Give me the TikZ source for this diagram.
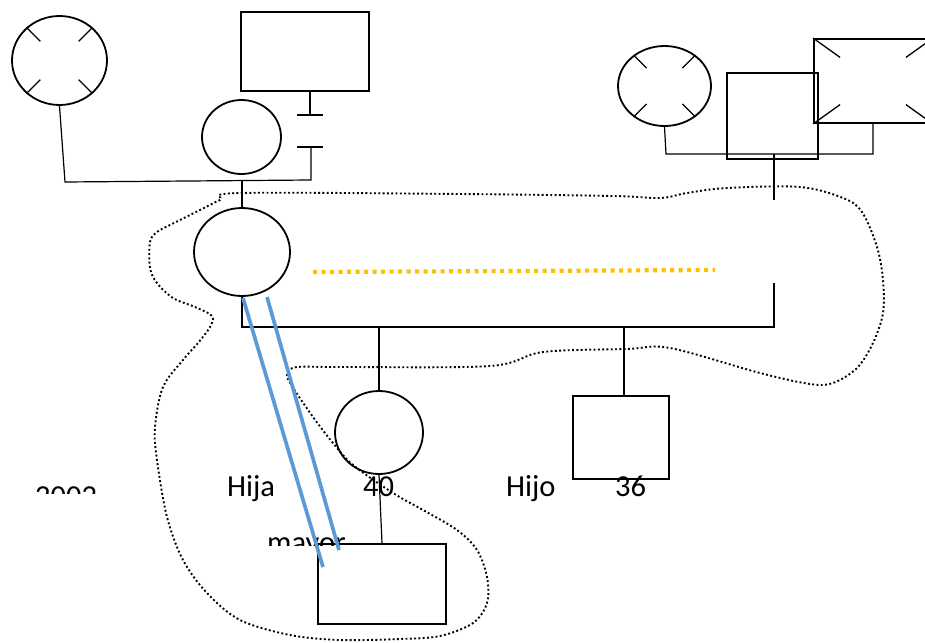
\documentclass[tikz,border=0pt]{standalone}
\usepackage{fontspec}
\setmainfont{Carlito}
\usetikzlibrary{shapes.geometric,calc}

\definecolor{relblue}{HTML}{5B9BD5}
\definecolor{relgold}{HTML}{FFC000}

\tikzset{
  female/.style={draw, ellipse, line width=1.8pt, inner sep=0pt},
  male/.style={draw, rectangle, line width=1.8pt, inner sep=0pt},
  link/.style={line width=1.2pt},
  tick/.style={line width=1.3pt},
  household/.style={line width=1.9pt, dash pattern=on 1.9pt off 2.4pt},
  conflict/.style={line width=3.7pt, draw=relblue},
  distant/.style={line width=4.2pt, draw=relgold, dash pattern=on 4.2pt off 4.3pt},
  label/.style={anchor=base west, inner sep=0pt, font=\fontsize{30.5}{36}\selectfont}
}

\begin{document}
\begin{tikzpicture}[x=1pt, y=-1pt]
\useasboundingbox (0,0) rectangle (925,642);
\clip (0,0) rectangle (925,642);

% ---- grandparents, left side
\node[female, minimum width=95, minimum height=89] (gmA) at (59.5,60.5) {};
\node[male, minimum width=128, minimum height=79] (gfA) at (305,51.5) {};
\node[female, minimum width=79, minimum height=74] (gmB) at (241.5,137) {};

% deceased marks on the left grandmother
\foreach \a in {45,135,225,315}
  \draw[tick] (gmA.\a) -- ($(gmA.\a)!0.42!(gmA.center)$);

% ---- grandparents, right side
\node[female, minimum width=93, minimum height=80] (gmC) at (664.5,86) {};
\node[male, minimum width=91, minimum height=86] (gfC) at (772.5,116) {};
\node[male, minimum width=118, minimum height=84] (gfD) at (873,81) {};

\foreach \a in {45,135,225,315}
  \draw[tick] (gmC.\a) -- ($(gmC.\a)!0.42!(gmC.center)$);
\foreach \c in {north west,north east,south west,south east}
  \draw[tick] (gfD.\c) -- ($(gfD.\c)!0.45!(gfD.center)$);

% ---- central generation and children
\node[female, minimum width=96, minimum height=88] (ego) at (242,252) {};
\node[female, minimum width=88, minimum height=83] (dau) at (379,432.5) {};
\node[male, minimum width=96, minimum height=83] (son) at (621,437.5) {};
\node[male, minimum width=128, minimum height=80] (gch) at (382,584) {};

% ---- junction points
\coordinate (jL) at (65,182);
\coordinate (jR) at (311,180);
\coordinate (sepB) at (311,147);
\coordinate (sepA) at (310,115);
\coordinate (sibL) at (242,327);
\coordinate (sibR) at (774,327);
\coordinate (pU) at (774,283);
\coordinate (rL) at (666,154);
\coordinate (rR) at (873,154);
\coordinate (rM) at (774,154);
\coordinate (pD) at (774,200);
\coordinate (sonJ) at (624,327);
\coordinate (yA) at (313,272);
\coordinate (yB) at (715,270);
\coordinate (bA1) at (243,298);
\coordinate (bA2) at (323,567);
\coordinate (bB1) at (267,297);
\coordinate (bB2) at (339,550);

% ---- left couple line with separation break
\draw[link] (gmA.south) -- (jL) -- (jR) -- (sepB);
\draw[link] (297,147) -- (323,147);
\draw[link] (gfA.south -| sepA) -- (sepA);
\draw[link] (297,115) -- (323,115);
\draw[link] (ego.north) -- (ego.north |- jR);

% ---- right couple line
\draw[link] (gmC.south) -- (rL) -- (rR) -- (gfD.south);
\draw[link] (rM) -- (pD);

% ---- sibship line
\draw[link] (ego.south) -- (sibL) -- (sibR) -- (pU);
\draw[link] (dau.north |- sibL) -- (dau.north);
\draw[link] (sonJ) -- (sonJ |- son.north);
\draw[link] (dau.south) -- (gch.north);

% ---- labels
\node[label] (tHija) at (227,496) {Hija};
\node[label] (tCuarenta) at (363,496) {40};
\node[label] (tHijo) at (506,496) {Hijo};
\node[label] (tTreinta) at (615,496) {36};
\begin{scope}
  \clip (0,0) rectangle (200,493);
  \node[label] (tYear) at (35,506) {2002};
\end{scope}
\begin{scope}
  \clip (240,500) rectangle (400,545.5);
  \node[label] (tMayor) at (267,552) {mayor};
\end{scope}

% ---- household boundary
\draw[household] plot[smooth cycle, tension=0.55] coordinates {
  (240,193) (460,194) (613,196) (660,198) (687,193) (727,188) (800,187)
  (843,198) (862,212) (877,247) (883,280) (883,313) (873,343) (857,368)
  (833,383) (810,384) (760,373) (670,348) (627,349) (543,352) (490,366)
  (340,367) (297,367) (287,374) (292,386) (313,417) (333,443) (353,465)
  (393,493) (423,510) (457,530) (477,550) (487,577) (487,603) (473,623)
  (440,636) (400,639) (340,640) (290,635) (240,620) (207,593) (183,560)
  (167,517) (157,460) (155,427) (163,387) (183,360) (198,343) (210,327)
  (212,316) (195,307) (173,298) (157,283) (150,268) (150,242) (157,232)
  (172,224) (200,210) (220,200)
};

% ---- relationship lines
\draw[conflict] (bA1) -- (bA2);
\draw[conflict] (bB1) -- (bB2);
\draw[distant] (yA) -- (yB);
\end{tikzpicture}
\end{document}
